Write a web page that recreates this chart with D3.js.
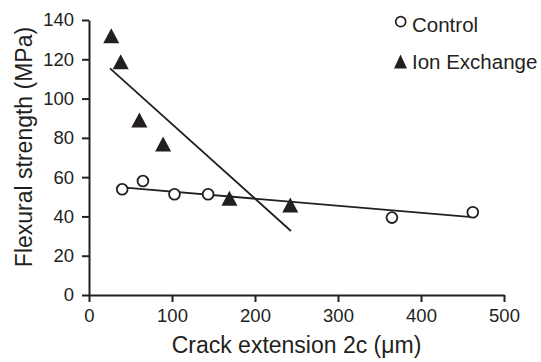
<!DOCTYPE html>
<html>
<head>
<meta charset="utf-8">
<script src="https://cdn.jsdelivr.net/npm/d3@7"></script>
<style>
  html, body { margin: 0; padding: 0; background: #fff; }
  svg text { font-family: "Liberation Sans", Arial, Helvetica, sans-serif; fill: #231f20; }
</style>
</head>
<body>
<div id="chart"></div>
<script>
// Control specimens: crack extension 2c (um) vs flexural strength (MPa)
const controlX = [40, 65, 103, 143.5, 365, 462.4];
const controlY = [53.8, 58, 51.3, 51.3, 39.4, 42.1];

// Ion exchanged specimens
const ionX = [26.8, 38.2, 60.7, 89.3, 169.2, 242.5];
const ionY = [132, 118.8, 89.1, 76.9, 49.2, 45.8];

// Trend line end points
const controlFitX = [40, 461.6];
const controlFitY = [54.8, 39.6];
const ionFitX = [25.3, 243.3];
const ionFitY = [115.4, 32.6];

const xTicks = [0, 100, 200, 300, 400, 500];
const yTicks = [0, 20, 40, 60, 80, 100, 120, 140];
const seriesNames = ['Control', 'Ion Exchange'];

const W = 541, H = 362;
const margin = { top: 20, right: 37, bottom: 67, left: 89 };
const width = W - margin.left - margin.right;
const height = H - margin.top - margin.bottom;

const svg = d3.select('#chart')
  .append('svg')
  .attr('width', W)
  .attr('height', H);

const g = svg.append('g')
  .attr('transform', `translate(${margin.left},${margin.top})`);

const x = d3.scaleLinear().domain([0, 500]).range([0, width]);
const y = d3.scaleLinear().domain([0, 140]).range([height, 0]);

// triangle centred on its bounding box
const tri = (w, h) => `M0,${-h / 2}L${w / 2},${h / 2}L${-w / 2},${h / 2}Z`;

// Axes
const xAxis = g.append('g')
  .attr('transform', `translate(0,${height})`)
  .call(d3.axisBottom(x).tickValues(xTicks).tickSize(7).tickPadding(7).tickSizeOuter(0));

const yAxis = g.append('g')
  .call(d3.axisLeft(y).tickValues(yTicks).tickSize(7).tickPadding(8).tickSizeOuter(0));

[xAxis, yAxis].forEach((a) => {
  a.select('.domain').attr('stroke', '#231f20').attr('stroke-width', 2);
  a.selectAll('.tick line').attr('stroke', '#231f20').attr('stroke-width', 2);
  a.selectAll('.tick text')
    .attr('fill', '#231f20')
    .style('font-size', '18.5px')
    .style('font-family', '"Liberation Sans", Arial, sans-serif');
});

// Trend lines
const line = d3.line().x((d) => x(d[0])).y((d) => y(d[1]));

g.append('path')
  .datum(d3.zip(controlFitX, controlFitY))
  .attr('d', line)
  .attr('fill', 'none')
  .attr('stroke', '#231f20')
  .attr('stroke-width', 1.8);

g.append('path')
  .datum(d3.zip(ionFitX, ionFitY))
  .attr('d', line)
  .attr('fill', 'none')
  .attr('stroke', '#231f20')
  .attr('stroke-width', 1.8);

// Control points
g.selectAll('.ctrl')
  .data(d3.zip(controlX, controlY))
  .enter()
  .append('circle')
  .attr('class', 'ctrl')
  .attr('cx', (d) => x(d[0]))
  .attr('cy', (d) => y(d[1]))
  .attr('r', 5.4)
  .attr('fill', '#fff')
  .attr('stroke', '#231f20')
  .attr('stroke-width', 1.8);

// Ion exchange points
g.selectAll('.ion')
  .data(d3.zip(ionX, ionY))
  .enter()
  .append('path')
  .attr('class', 'ion')
  .attr('transform', (d) => `translate(${x(d[0])},${y(d[1])})`)
  .attr('d', tri(16, 15))
  .attr('fill', '#231f20');

// Axis titles
g.append('text')
  .attr('x', width / 2)
  .attr('y', height + 58)
  .attr('text-anchor', 'middle')
  .style('font-size', '23px')
  .text('Crack extension 2c (\u03bcm)');

svg.append('text')
  .attr('transform', 'rotate(-90)')
  .attr('x', -147)
  .attr('y', 32)
  .attr('text-anchor', 'middle')
  .style('font-size', '23px')
  .text('Flexural strength (MPa)');

// Legend
const legend = svg.append('g');

legend.append('circle')
  .attr('cx', 400.7)
  .attr('cy', 21.7)
  .attr('r', 5)
  .attr('fill', '#fff')
  .attr('stroke', '#231f20')
  .attr('stroke-width', 1.7);

legend.append('text')
  .attr('x', 412)
  .attr('y', 31.5)
  .style('font-size', '20.5px')
  .text(seriesNames[0]);

legend.append('path')
  .attr('transform', 'translate(400.5,61.5)')
  .attr('d', tri(13, 14))
  .attr('fill', '#231f20');

legend.append('text')
  .attr('x', 412)
  .attr('y', 69)
  .style('font-size', '20.5px')
  .text(seriesNames[1]);
</script>
</body>
</html>
